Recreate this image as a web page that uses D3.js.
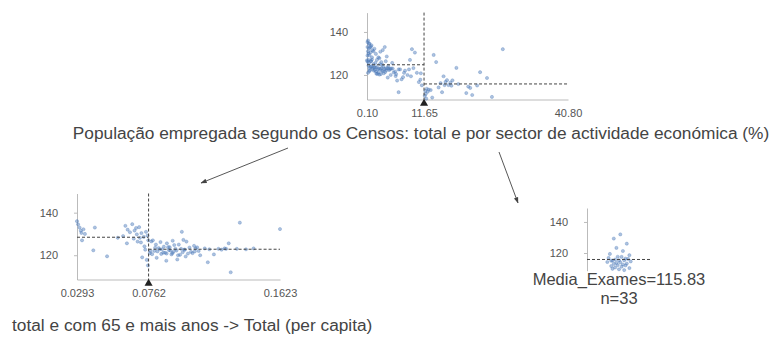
<!DOCTYPE html>
<html>
<head>
<meta charset="utf-8">
<script src="https://cdn.jsdelivr.net/npm/d3@7"></script>
<style>
  body { margin: 0; background: #fff; }
  svg { display: block; }
  text { font-family: "Liberation Sans", Arial, sans-serif; }
</style>
</head>
<body>
<svg id="chart" width="777" height="342"></svg>
<script>
// ---- tree structure ----
const targetName = "Media_Exames";
const yTicks = [120, 140];
const yDomain = [108.6, 149];

const rootFeature = "População empregada segundo os Censos: total e por sector de actividade económica (%)";
const rootTicks = [0.10, 11.65, 40.80];
const rootSplit = 11.65;

const leftFeature = "total e com 65 e mais anos -> Total (per capita)";
const leftTicks = [0.0293, 0.0762, 0.1623];
const leftSplit = 0.0762;

const leafMean = 115.83;
const leafN = 33;

// ---- municipalities with employed share <= 11.65 % ----
// sector share (%), population 65+ per capita, exam average
const lowPct = [
  0.3, 0.5, 0.2, 1.2, 0.8, 1.6, 0.4, 2.1, 3.7, 4.6, 5.9, 2.4, 1.0, 9.2, 2.8, 0.6, 3.3, 1.9,
  0.9, 9.8, 4.1, 1.4, 0.6, 5.2, 2.6, 3.9, 7.4, 6.5, 10.9, 11.2, 1.1, 0.2, 4.4, 8.8, 0.7, 3.0,
  0.3, 1.5, 0.9, 2.2, 0.4, 3.1, 1.8, 2.7, 4.3, 0.6, 1.3, 3.6, 0.2, 2.0, 4.8, 5.5, 1.0, 2.4,
  6.2, 0.5, 3.4, 1.7, 0.8, 4.0, 2.9, 0.1, 1.9, 3.2, 5.0, 0.7, 7.1, 8.3, 1.4, 2.6, 4.5, 0.3,
  3.8, 1.1, 6.8, 2.3, 0.9, 3.5, 1.6, 5.8, 10.2, 0.4, 9.5, 2.1, 7.8, 4.9, 3.0, 10.6, 1.2, 6.0,
  2.5, 8.6, 0.6, 5.3, 1.8, 6.5, 3.9, 0.2, 2.8, 4.2, 0.5, 11.0, 9.0, 7.6, 3.3
];
const lowPerCapita = [
  0.0293, 0.0300, 0.0310, 0.0318, 0.0322, 0.0335, 0.0345, 0.0326, 0.0410, 0.0400, 0.0490, 0.0560,
  0.0610, 0.0625, 0.0640, 0.0655, 0.0670, 0.0685, 0.0700, 0.0715, 0.0730, 0.0745, 0.0755, 0.0620,
  0.0665, 0.0690, 0.0720, 0.0740, 0.0750, 0.0758, 0.0705, 0.0595, 0.0735, 0.0760, 0.0680, 0.0712,
  0.0770, 0.0775, 0.0780, 0.0785, 0.0790, 0.0800, 0.0805, 0.0810, 0.0815, 0.0820, 0.0828, 0.0835,
  0.0840, 0.0845, 0.0850, 0.0858, 0.0862, 0.0870, 0.0878, 0.0882, 0.0890, 0.0895, 0.0900, 0.0905,
  0.0912, 0.0920, 0.0925, 0.0930, 0.0938, 0.0945, 0.0950, 0.0955, 0.0960, 0.0968, 0.0975, 0.0980,
  0.0985, 0.0990, 0.0995, 0.1000, 0.1010, 0.1020, 0.1030, 0.1040, 0.1050, 0.1060, 0.1070, 0.1080,
  0.1090, 0.1100, 0.1130, 0.1150, 0.1160, 0.1190, 0.1220, 0.1240, 0.1260, 0.1270, 0.1287, 0.1300,
  0.1340, 0.1360, 0.1400, 0.1450, 0.1623, 0.0880, 0.1005, 0.0918, 0.1065
];
const lowExames = [
  136.0, 134.5, 133.0, 131.5, 130.5, 132.2, 130.0, 127.0, 133.0, 122.3, 119.5, 128.2,
  133.8, 132.0, 130.8, 134.6, 131.6, 129.8, 133.2, 130.4, 128.6, 131.0, 129.2, 125.6,
  127.8, 126.4, 119.0, 122.6, 117.8, 115.2, 128.2, 129.0, 124.2, 127.0, 132.8, 126.0,
  121.0, 122.0, 126.5, 120.5, 127.0, 122.0, 123.5, 125.0, 118.8, 121.8, 123.4, 122.8,
  126.2, 120.6, 122.8, 121.2, 124.0, 121.2, 117.4, 125.6, 123.8, 122.4, 123.8, 122.2,
  120.4, 126.8, 121.6, 124.8, 123.0, 122.2, 118.0, 120.0, 125.0, 120.2, 123.0, 131.0,
  121.4, 127.2, 122.6, 122.6, 126.4, 120.8, 123.6, 121.6, 121.0, 124.4, 123.2, 123.7,
  122.0, 120.0, 123.2, 116.7, 122.8, 120.4, 123.0, 122.6, 123.2, 123.0, 125.6, 112.0,
  123.0, 135.3, 122.8, 123.2, 132.3, 120.8, 119.4, 121.0, 121.8
];

// ---- municipalities with employed share > 11.65 % (the leaf) ----
const highPct = [
  27.6, 13.6, 14.1, 18.2, 23.0, 15.6, 24.4, 16.3, 17.0, 22.4, 17.4, 16.0, 15.0, 18.6, 15.8, 16.6, 17.2,
  20.6, 14.6, 21.0, 12.2, 12.6, 13.0, 11.9, 12.4, 15.3, 20.2, 12.0, 21.4, 11.8, 25.4, 13.3, 12.1
];
const highExames = [
  132.0, 129.3, 126.0, 123.3, 121.3, 119.4, 118.6, 117.6, 116.4, 115.1, 117.5, 116.8, 116.2, 115.8, 115.3, 115.3, 115.0,
  114.6, 114.2, 114.0, 113.6, 113.2, 113.0, 112.6, 112.2, 112.0, 111.6, 111.2, 110.7, 110.3, 109.8, 109.5, 109.0
];
// horizontal spread of the leaf strip plot
const leafJitter = [
  0.1, -0.4, 0.6, -0.2, 0.3, -0.7, 0.8, -0.1, 0.5, -0.5, 0.2, -0.8, 0.7, -0.3, 0.0, 0.4, -0.6,
  0.9, -0.9, 0.1, -0.2, 0.6, -0.4, 0.3, -0.1, 0.5, -0.6, 0.2, -0.3, 0.8, -0.5, 0.0, 0.4
];

// ---- drawing ----
const svg = d3.select("#chart");
const ink = "#444";
const tickInk = "#555";
const spine = "#aaa";
const dotColor = "#4a78b8";

const lowRows = lowPct.map((p, i) => ({ pct: p, cap: lowPerCapita[i], y: lowExames[i] }));
const highRows = highPct.map((p, i) => ({ pct: p, y: highExames[i] }));

function styleAxis(g) {
  g.selectAll("path.domain").attr("stroke", spine).attr("stroke-width", 0.8);
  g.selectAll(".tick line").attr("stroke", spine).attr("stroke-width", 0.8);
  g.selectAll(".tick text").attr("fill", tickInk).attr("font-size", 11)
    .attr("font-family", "Liberation Sans, Arial, sans-serif");
}

function dots(g, rows, cx, cy) {
  g.append("g").selectAll("circle").data(rows).join("circle")
    .attr("cx", cx).attr("cy", cy).attr("r", 1.6)
    .attr("fill", dotColor).attr("fill-opacity", 0.45)
    .attr("stroke", dotColor).attr("stroke-opacity", 0.6).attr("stroke-width", 0.5);
}

function splitPlot(opt) {
  const g = svg.append("g");
  const x = d3.scaleLinear().domain(opt.xDomain).range(opt.xRange);
  const y = d3.scaleLinear().domain(yDomain).range(opt.yRange);
  const bottom = opt.yRange[0];

  const yAxis = g.append("g").attr("transform", `translate(${opt.xRange[0]},0)`)
    .call(d3.axisLeft(y).tickValues(yTicks).tickSize(3).tickSizeOuter(0).tickPadding(16));
  styleAxis(yAxis);

  const xAxis = g.append("g").attr("transform", `translate(0,${bottom})`)
    .call(d3.axisBottom(x).tickValues(opt.ticks).tickFormat(d3.format(opt.fmt))
      .tickSize(0).tickSizeOuter(0).tickPadding(10));
  styleAxis(xAxis);

  dots(g, opt.rows, d => x(d.xv), d => y(d.y));

  const leftSide = opt.rows.filter(d => d.xv <= opt.split);
  const rightSide = opt.rows.filter(d => d.xv > opt.split);
  const lm = d3.mean(leftSide, d => d.y), rm = d3.mean(rightSide, d => d.y);

  const line = (x1, y1, x2, y2) => g.append("line")
    .attr("x1", x1).attr("y1", y1).attr("x2", x2).attr("y2", y2)
    .attr("stroke", ink).attr("stroke-width", 1).attr("stroke-dasharray", "3,2");
  line(x(opt.split), opt.yRange[1], x(opt.split), bottom);
  line(x(opt.xDomain[0]), y(lm), x(opt.split), y(lm));
  line(x(opt.split), y(rm), x(opt.xDomain[1]), y(rm));

  g.append("path").attr("d", d3.symbol(d3.symbolTriangle, 28)())
    .attr("transform", `translate(${x(opt.split)},${bottom + 4})`).attr("fill", "#222");
}

// root node: employed-population share
splitPlot({
  xDomain: [rootTicks[0], rootTicks[2]], xRange: [367, 568], yRange: [99.5, 12.6],
  ticks: rootTicks, fmt: ".2f", split: rootSplit,
  rows: lowRows.map(d => ({ xv: d.pct, y: d.y })).concat(highRows.map(d => ({ xv: d.pct, y: d.y })))
});

// left child: population aged 65+ per capita
splitPlot({
  xDomain: [leftTicks[0], leftTicks[2]], xRange: [77, 280], yRange: [279.5, 193.5],
  ticks: leftTicks, fmt: ".4f", split: leftSplit,
  rows: lowRows.map(d => ({ xv: d.cap, y: d.y }))
});

// leaf: strip plot of the target
(function leaf() {
  const g = svg.append("g");
  const y = d3.scaleLinear().domain(yDomain).range([270.7, 208]);
  const xj = d3.scaleLinear().domain([-1, 1]).range([606, 632]);
  const axisX = 587;
  const yAxis = g.append("g").attr("transform", `translate(${axisX},0)`)
    .call(d3.axisLeft(y).tickValues(yTicks).tickSize(3).tickSizeOuter(0).tickPadding(16));
  styleAxis(yAxis);

  dots(g, highRows, (d, i) => xj(leafJitter[i]), d => y(d.y));

  g.append("line").attr("x1", axisX).attr("x2", 651)
    .attr("y1", y(leafMean)).attr("y2", y(leafMean))
    .attr("stroke", ink).attr("stroke-width", 1).attr("stroke-dasharray", "3,2");

  g.append("text").attr("x", 619).attr("y", 285).attr("text-anchor", "middle")
    .attr("font-size", 16.5).attr("fill", ink)
    .text(`${targetName}=${d3.format(".2f")(leafMean)}`);
  g.append("text").attr("x", 619).attr("y", 304).attr("text-anchor", "middle")
    .attr("font-size", 16.5).attr("fill", ink).text(`n=${leafN}`);
})();

// split feature labels
svg.append("text").attr("x", 421).attr("y", 139).attr("text-anchor", "middle")
  .attr("font-size", 17.3).attr("fill", ink).text(rootFeature);
svg.append("text").attr("x", 12).attr("y", 331).attr("text-anchor", "start")
  .attr("font-size", 17.3).attr("fill", ink).text(leftFeature);

// edges
svg.append("defs").append("marker").attr("id", "head")
  .attr("viewBox", "0 0 10 10").attr("refX", 9).attr("refY", 5)
  .attr("markerWidth", 7).attr("markerHeight", 7).attr("orient", "auto")
  .append("path").attr("d", "M0,1.5L10,5L0,8.5Z").attr("fill", ink);
const edges = [[288, 148, 201, 183], [499, 152, 518, 203]];
svg.append("g").selectAll("line").data(edges).join("line")
  .attr("x1", d => d[0]).attr("y1", d => d[1]).attr("x2", d => d[2]).attr("y2", d => d[3])
  .attr("stroke", ink).attr("stroke-width", 0.9).attr("marker-end", "url(#head)");
</script>
</body>
</html>
